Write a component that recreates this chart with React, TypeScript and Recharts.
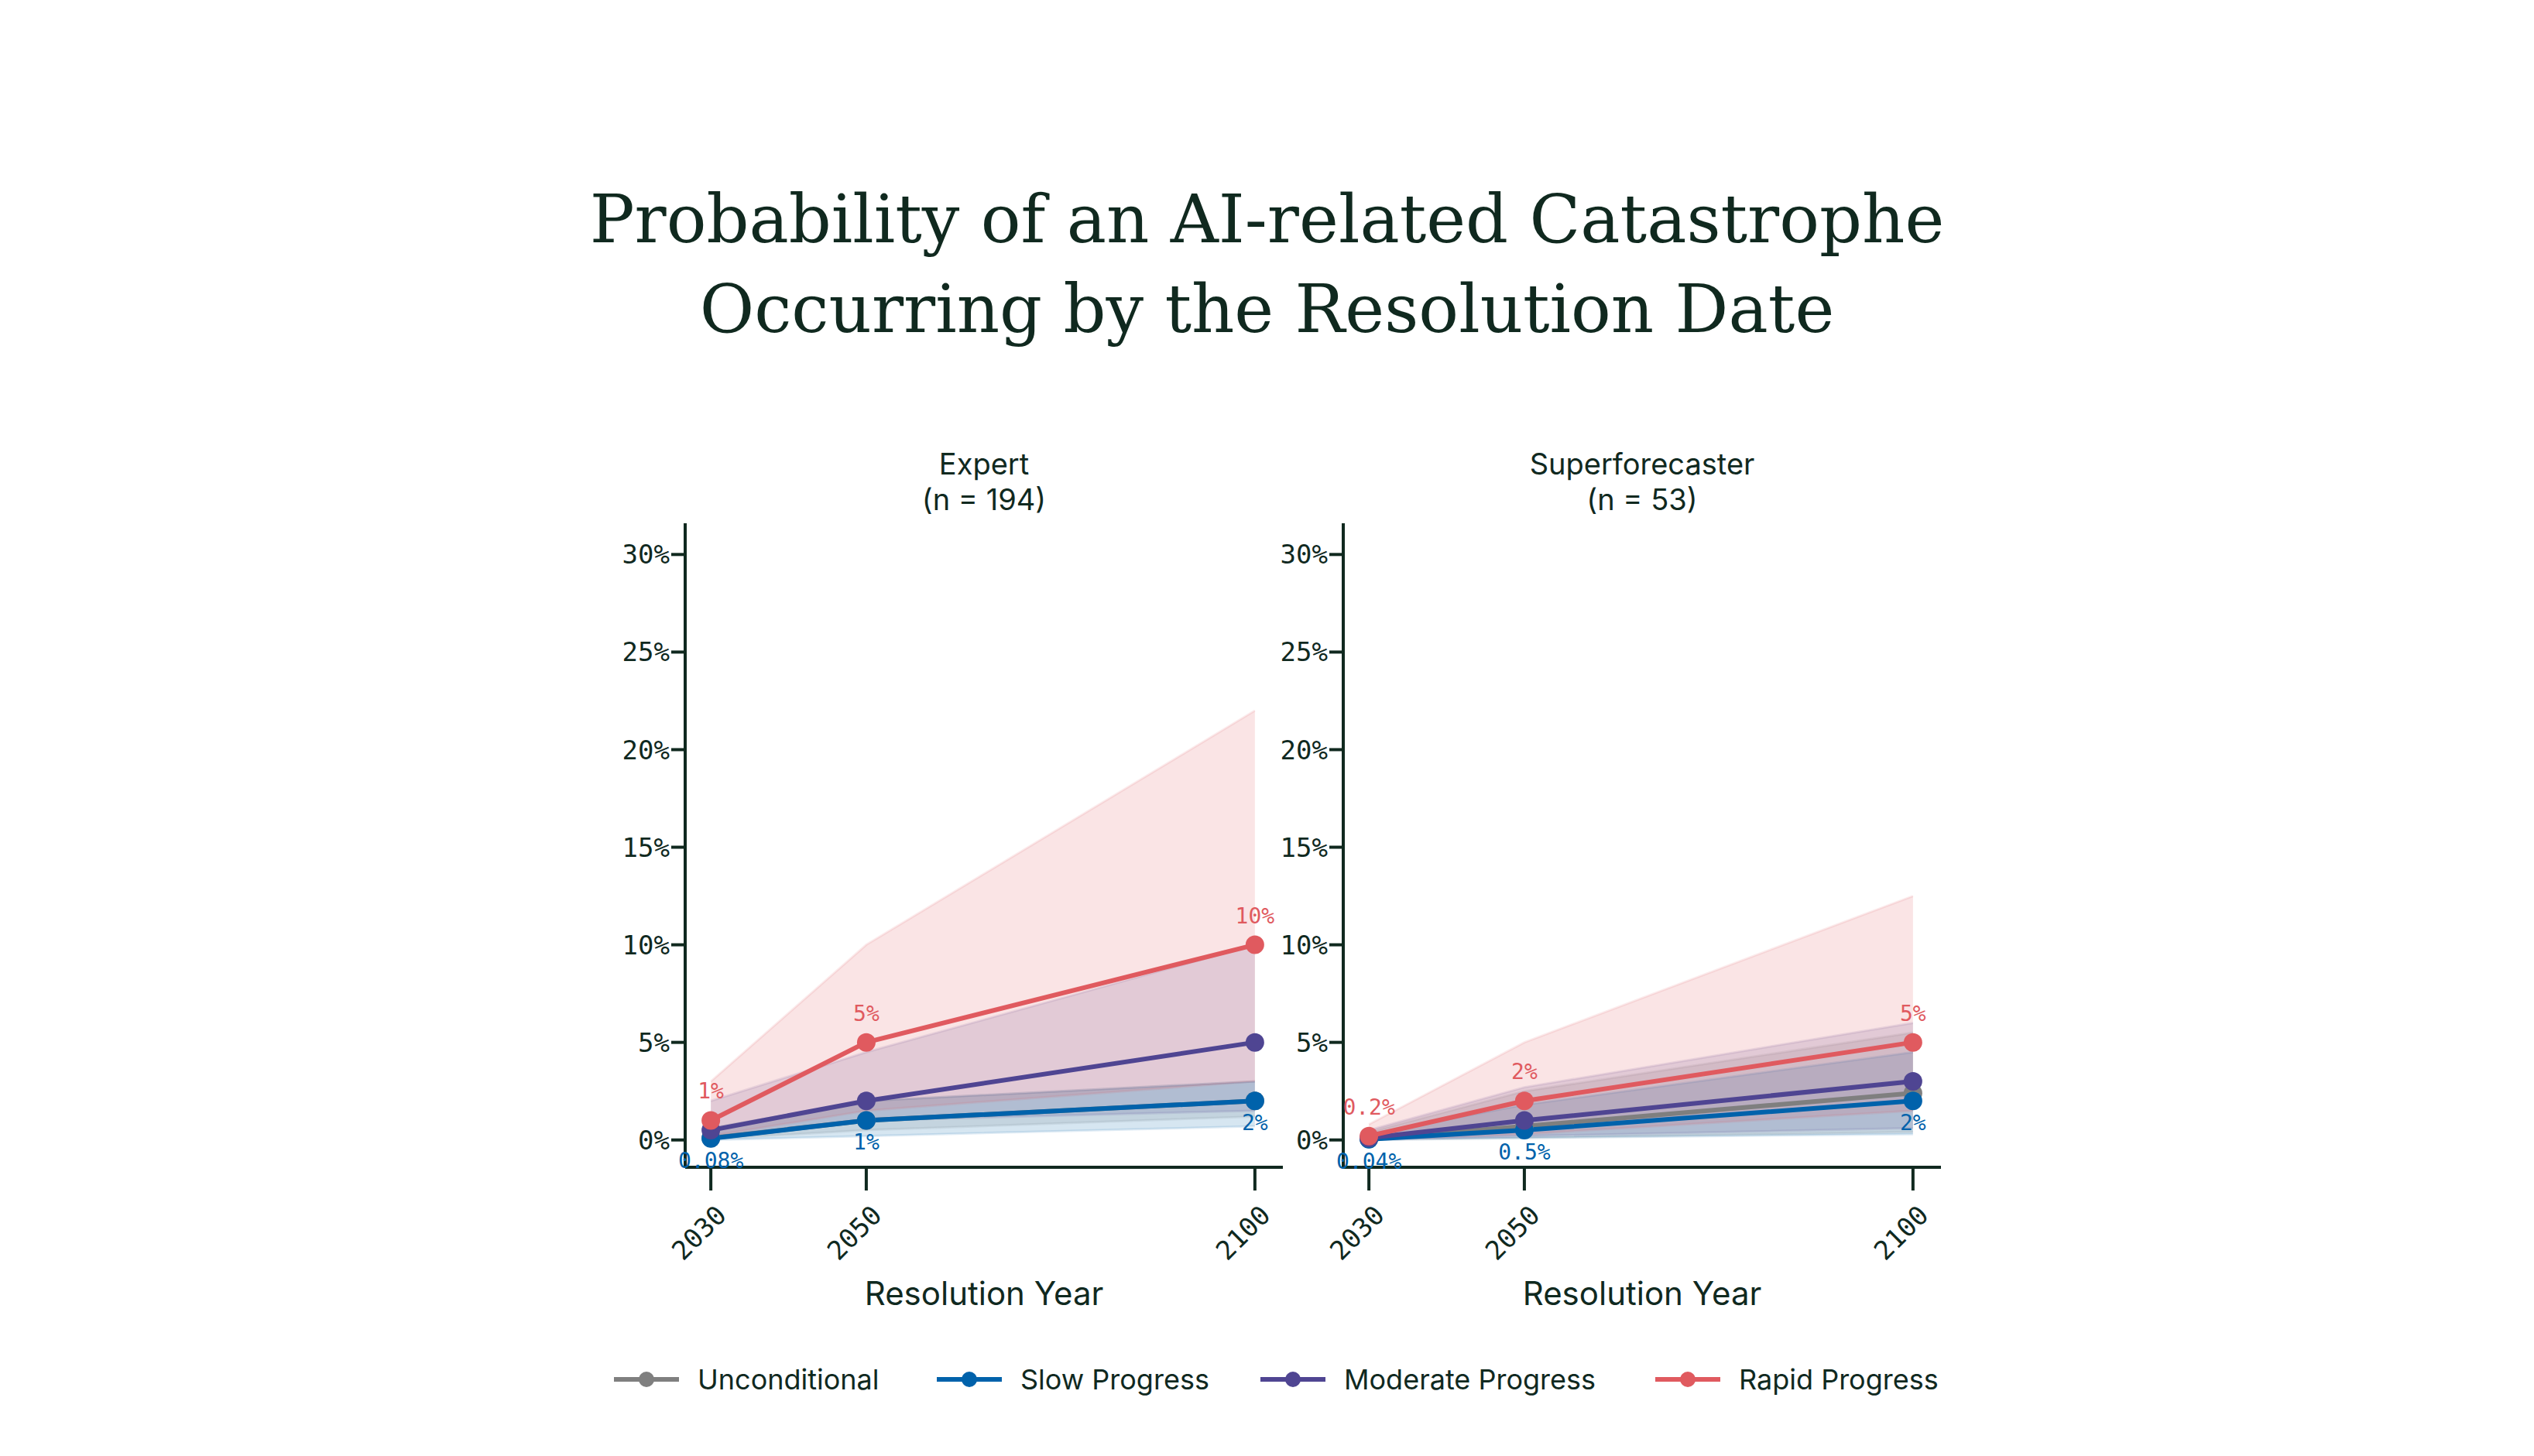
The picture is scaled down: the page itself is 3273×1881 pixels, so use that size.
import React from "react";
import { Area, ComposedChart, LabelList, Line, XAxis, YAxis } from "recharts";

const years = [2030, 2050, 2100];
const yTicks = [0, 5, 10, 15, 20, 25, 30];

const seriesNames = ["Unconditional", "Slow Progress", "Moderate Progress", "Rapid Progress"];
const seriesKeys = ["uncond", "slow", "moderate", "rapid"];
const seriesColors = ["#7f7f7f", "#0062ab", "#4f4592", "#e05a5f"];

// Expert medians and bands (percent)
const expertUncond = [0.1, 1, 2];
const expertSlow = [0.08, 1, 2];
const expertModerate = [0.5, 2, 5];
const expertRapid = [1, 5, 10];
const expertUncondLo = [0.05, 0.5, 1.2];
const expertUncondHi = [0.6, 2, 3];
const expertSlowLo = [0, 0.2, 0.7];
const expertSlowHi = [0.6, 2, 3];
const expertModerateLo = [0.1, 1, 1.5];
const expertModerateHi = [2, 4.5, 10];
const expertRapidLo = [0.2, 1.5, 3];
const expertRapidHi = [3, 10, 22];
const expertRapidLabels = ["1%", "5%", "10%"];
const expertSlowLabels = ["0.08%", "1%", "2%"];

// Superforecaster medians and bands (percent)
const superUncond = [0.05, 0.7, 2.4];
const superSlow = [0.04, 0.5, 2];
const superModerate = [0.1, 1, 3];
const superRapid = [0.2, 2, 5];
const superUncondLo = [0, 0.1, 0.4];
const superUncondHi = [0.4, 2.5, 5.5];
const superSlowLo = [0, 0.1, 0.3];
const superSlowHi = [0.3, 1.8, 4.5];
const superModerateLo = [0.02, 0.2, 0.6];
const superModerateHi = [0.5, 2.7, 6];
const superRapidLo = [0.03, 0.3, 1.5];
const superRapidHi = [0.8, 5, 12.5];
const superRapidLabels = ["0.2%", "2%", "5%"];
const superSlowLabels = ["0.04%", "0.5%", "2%"];

const expertRows = years.map((year, i) => ({
  year,
  uncond: expertUncond[i],
  slow: expertSlow[i],
  moderate: expertModerate[i],
  rapid: expertRapid[i],
  uncondBand: [expertUncondLo[i], expertUncondHi[i]],
  slowBand: [expertSlowLo[i], expertSlowHi[i]],
  moderateBand: [expertModerateLo[i], expertModerateHi[i]],
  rapidBand: [expertRapidLo[i], expertRapidHi[i]],
  rapidLabel: expertRapidLabels[i],
  slowLabel: expertSlowLabels[i],
}));

const superRows = years.map((year, i) => ({
  year,
  uncond: superUncond[i],
  slow: superSlow[i],
  moderate: superModerate[i],
  rapid: superRapid[i],
  uncondBand: [superUncondLo[i], superUncondHi[i]],
  slowBand: [superSlowLo[i], superSlowHi[i]],
  moderateBand: [superModerateLo[i], superModerateHi[i]],
  rapidBand: [superRapidLo[i], superRapidHi[i]],
  rapidLabel: superRapidLabels[i],
  slowLabel: superSlowLabels[i],
}));

const ink = "#10291f";
const mono = "'DejaVu Sans Mono', 'Liberation Mono', monospace";
const sans = "Inter, 'Noto Sans', sans-serif";

function XTick({ x, y, payload }: any) {
  return (
    <text x={x + 4} y={y + 14} transform={`rotate(-45 ${x + 4} ${y + 14})`} textAnchor="end" dominantBaseline="hanging" fontFamily={mono} fontSize={34} fill={ink}>
      {payload.value}
    </text>
  );
}

function Panel({ rows, left, title, n }: { rows: any[]; left: number; title: string; n: number }) {
  return (
    <div style={{ position: "absolute", left, top: 560 }}>
      <div style={{ position: "absolute", left: 200, width: 772, top: 16, textAlign: "center", fontFamily: sans, fontSize: 38, color: ink, lineHeight: "46px" }}>
        {title}
        <br />({"n = " + n})
      </div>
      <ComposedChart width={1032} height={1150} data={rows} margin={{ top: 116, right: 60, bottom: 82, left: 80 }}>
        <XAxis
          dataKey="year"
          type="number"
          domain={[2026.7, 2103.6]}
          ticks={years}
          tick={<XTick />}
          tickSize={30}
          stroke={ink}
          strokeWidth={4}
          height={120}
          allowDataOverflow
        />
        <YAxis
          type="number"
          domain={[-1.4, 31.6]}
          ticks={yTicks}
          tickFormatter={(v: number) => `${v}%`}
          tick={{ fontFamily: mono, fontSize: 34, fill: ink }}
          tickSize={18}
          stroke={ink}
          strokeWidth={4}
          width={120}
          allowDataOverflow
        />
        {seriesKeys.map((k, i) => (
          <Area
            key={k + "Band"}
            dataKey={k + "Band"}
            type="linear"
            stroke={seriesColors[i]}
            strokeOpacity={0.12}
            strokeWidth={3}
            fill={seriesColors[i]}
            fillOpacity={0.16}
            isAnimationActive={false}
          />
        ))}
        {seriesKeys.map((k, i) => (
          <Line
            key={k}
            dataKey={k}
            type="linear"
            stroke={seriesColors[i]}
            strokeWidth={6}
            dot={{ r: 12, fill: seriesColors[i], stroke: "none" }}
            isAnimationActive={false}
          >
            {k === "rapid" && (
              <LabelList dataKey="rapidLabel" position="top" offset={28} fill={seriesColors[i]} fontFamily={mono} fontSize={28} />
            )}
            {k === "slow" && (
              <LabelList dataKey="slowLabel" position="bottom" offset={18} fill={seriesColors[i]} fontFamily={mono} fontSize={28} />
            )}
          </Line>
        ))}
      </ComposedChart>
      <div style={{ position: "absolute", left: 200, width: 772, top: 1085, textAlign: "center", fontFamily: sans, fontSize: 42, color: ink }}>
        Resolution Year
      </div>
    </div>
  );
}

export default function App() {
  return (
    <div style={{ position: "absolute", left: 0, top: 0, width: 3273, height: 1881, background: "#fff" }}>
      <div style={{ position: "absolute", left: 0, width: 3273, top: 225, textAlign: "center", fontFamily: "'DejaVu Serif', 'Liberation Serif', serif", fontSize: 86, lineHeight: "116px", color: ink }}>
        Probability of an AI-related Catastrophe
        <br />
        Occurring by the Resolution Date
      </div>
      <Panel rows={expertRows} left={685} title="Expert" n={194} />
      <Panel rows={superRows} left={1535} title="Superforecaster" n={53} />
      <div style={{ position: "absolute", top: 1760, left: 0, width: 3273, height: 50 }}>
        {seriesNames.map((name, i) => (
          <div key={name} style={{ position: "absolute", left: [793, 1210, 1628, 2138][i], display: "flex", alignItems: "center", fontFamily: sans, fontSize: 36, color: ink }}>
            <svg width={90} height={40} style={{ marginRight: 18 }}>
              <line x1={0} y1={20} x2={84} y2={20} stroke={seriesColors[i]} strokeWidth={6} />
              <circle cx={42} cy={20} r={10} fill={seriesColors[i]} />
            </svg>
            {name}
          </div>
        ))}
      </div>
    </div>
  );
}
